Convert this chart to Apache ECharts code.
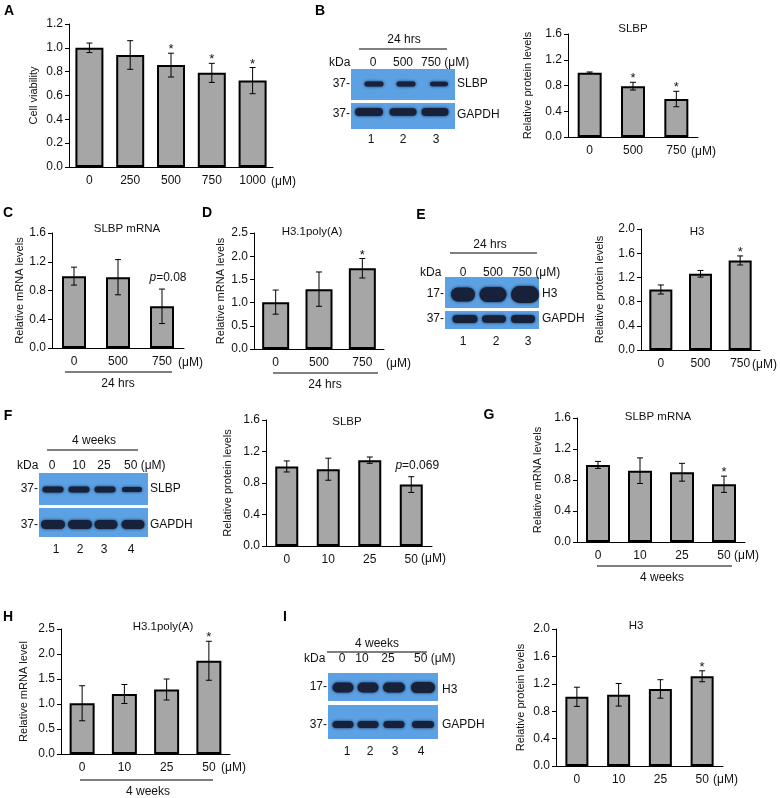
<!DOCTYPE html>
<html><head><meta charset="utf-8">
<script src="https://cdn.jsdelivr.net/npm/echarts@6/dist/echarts.min.js"></script>
<style>html,body{margin:0;padding:0;background:#fff}#c{width:780px;height:798px}</style>
</head><body><div id="c"></div>
<script>
// ---------------- DATA ----------------
const catA = ['0', '250', '500', '750', '1000'];
const valA = [1.00, 0.94, 0.855, 0.79, 0.725];
const errA = [0.04, 0.12, 0.10, 0.08, 0.11];
const noteA = ['', '', '*', '*', '*'];

const catB = ['0', '500', '750'];
const valB = [1.00, 0.79, 0.59];
const errB = [0.01, 0.06, 0.12];
const noteB = ['', '*', '*'];

const catC = ['0', '500', '750'];
const valC = [1.00, 0.985, 0.58];
const errC = [0.125, 0.245, 0.24];
const noteC = ['', '', 'p=0.08'];

const catD = ['0', '500', '750'];
const valD = [1.01, 1.29, 1.74];
const errD = [0.26, 0.37, 0.21];
const noteD = ['', '', '*'];

const catE = ['0', '500', '750'];
const valE = [1.00, 1.26, 1.48];
const errE = [0.075, 0.055, 0.075];
const noteE = ['', '', '*'];

const catF = ['0', '10', '25', '50'];
const valF = [1.01, 0.975, 1.09, 0.78];
const errF = [0.07, 0.14, 0.04, 0.10];
const noteF = ['', '', '', 'p=0.069'];

const catG = ['0', '10', '25', '50'];
const valG = [0.995, 0.92, 0.90, 0.745];
const errG = [0.045, 0.165, 0.115, 0.105];
const noteG = ['', '', '', '*'];

const catH = ['0', '10', '25', '50'];
const valH = [1.015, 1.20, 1.29, 1.865];
const errH = [0.35, 0.19, 0.21, 0.39];
const noteH = ['', '', '', '*'];

const catI = ['0', '10', '25', '50'];
const valI = [1.01, 1.04, 1.125, 1.31];
const errI = [0.14, 0.165, 0.135, 0.08];
const noteI = ['', '', '', '*'];

// ---------------- LAYOUT ----------------
const FONT = '"Liberation Sans", Arial, Helvetica, sans-serif';
const panels = [
  {cats: catA, vals: valA, errs: errA, notes: noteA, ymax: 1.2, step: 0.2, yname: 'Cell viability',
   grid: {left: 69, top: 24, width: 204, height: 143}, bw: 28, gap: 30},
  {cats: catB, vals: valB, errs: errB, notes: noteB, ymax: 1.6, step: 0.4, yname: 'Relative protein levels',
   grid: {left: 568, top: 34, width: 130, height: 103}, bw: 24, gap: 35},
  {cats: catC, vals: valC, errs: errC, notes: noteC, ymax: 1.6, step: 0.4, yname: 'Relative mRNA levels',
   grid: {left: 52, top: 233, width: 132, height: 115}, bw: 24, gap: 26},
  {cats: catD, vals: valD, errs: errD, notes: noteD, ymax: 2.5, step: 0.5, yname: 'Relative mRNA levels',
   grid: {left: 254, top: 233, width: 130, height: 116}, bw: 27, gap: 28},
  {cats: catE, vals: valE, errs: errE, notes: noteE, ymax: 2.0, step: 0.4, yname: 'Relative protein levels',
   grid: {left: 641, top: 229, width: 119, height: 121}, bw: 23, gap: 36},
  {cats: catF, vals: valF, errs: errF, notes: noteF, ymax: 1.6, step: 0.4, yname: 'Relative protein levels',
   grid: {left: 266, top: 420, width: 166, height: 126}, bw: 23, gap: 33},
  {cats: catG, vals: valG, errs: errG, notes: noteG, ymax: 1.6, step: 0.4, yname: 'Relative mRNA levels',
   grid: {left: 577, top: 418, width: 168, height: 124}, bw: 24, gap: 34},
  {cats: catH, vals: valH, errs: errH, notes: noteH, ymax: 2.5, step: 0.5, yname: 'Relative mRNA level',
   grid: {left: 61, top: 629, width: 169, height: 125}, bw: 25, gap: 32},
  {cats: catI, vals: valI, errs: errI, notes: noteI, ymax: 2.0, step: 0.4, yname: 'Relative protein levels',
   grid: {left: 556, top: 629, width: 167, height: 137}, bw: 23, gap: 30}
];

const grids = [], xAxes = [], yAxes = [], series = [];
panels.forEach((p, i) => {
  grids.push(Object.assign({}, p.grid));
  xAxes.push({
    type: 'category', gridIndex: i, data: p.cats,
    axisLine: {lineStyle: {color: '#000', width: 1}},
    axisTick: {inside: true, length: 4, lineStyle: {color: '#000'}},
    axisLabel: {color: '#111', fontSize: 12, fontFamily: FONT, margin: 8, interval: 0}
  });
  yAxes.push({
    type: 'value', gridIndex: i, min: 0, max: p.ymax, interval: p.step,
    axisLine: {show: true, lineStyle: {color: '#000', width: 1}},
    axisTick: {show: true, length: 4, lineStyle: {color: '#000'}},
    splitLine: {show: false},
    axisLabel: {color: '#111', fontSize: 12, fontFamily: FONT, margin: 6, formatter: v => v.toFixed(1)},
    name: p.yname, nameLocation: 'middle', nameRotate: 90, nameGap: p.gap,
    nameTextStyle: {fontSize: 11, fontFamily: FONT, color: '#111'}
  });
  series.push({
    type: 'bar', xAxisIndex: i, yAxisIndex: i, data: p.vals, barWidth: p.bw, silent: true,
    itemStyle: {color: '#a6a6a6', borderColor: '#000', borderWidth: 2}
  });
  const notes = p.notes;
  series.push({
    type: 'custom', xAxisIndex: i, yAxisIndex: i, z: 5, silent: true,
    data: p.vals.map((v, j) => [j, v, p.errs[j]]),
    renderItem: (params, api) => {
      const x = api.value(0), v = api.value(1), e = api.value(2);
      const top = api.coord([x, v + e]);
      const bot = api.coord([x, v - e]);
      const cw = 3;
      const st = {stroke: '#000', lineWidth: 1};
      const ch = [
        {type: 'line', shape: {x1: top[0], y1: top[1], x2: bot[0], y2: bot[1]}, style: st},
        {type: 'line', shape: {x1: top[0] - cw, y1: top[1], x2: top[0] + cw, y2: top[1]}, style: st},
        {type: 'line', shape: {x1: bot[0] - cw, y1: bot[1], x2: bot[0] + cw, y2: bot[1]}, style: st}
      ];
      const n = notes[params.dataIndex];
      if (n === '*') {
        ch.push({type: 'text', x: top[0], y: top[1] + 3,
          style: {text: '*', fontSize: 13, fontFamily: FONT, fill: '#111', align: 'center', verticalAlign: 'bottom'}});
      } else if (n) {
        ch.push({type: 'text', x: top[0] + 6, y: top[1] - 5,
          style: {text: '{i|p}' + n.slice(1), fontSize: 12, fontFamily: FONT, fill: '#111', align: 'center', verticalAlign: 'bottom',
            rich: {i: {fontStyle: 'italic', fontSize: 12, fontFamily: FONT, fill: '#111'}}}});
      }
      return {type: 'group', children: ch};
    }
  });
});

// ---------------- ANNOTATIONS ----------------
const G = [];
function T(text, x, y, o) {
  o = o || {};
  G.push({type: 'text', x: x, y: y, z: 10, silent: true,
    style: {text: text, fontSize: o.fs || 12, fontWeight: o.fw || 'normal', fontFamily: FONT, fill: o.c || '#111',
      align: o.a || 'center', verticalAlign: 'middle'}});
}
function L(x1, y1, x2, y2) {
  G.push({type: 'line', z: 10, silent: true, shape: {x1: x1, y1: y1, x2: x2, y2: y2}, style: {stroke: '#000', lineWidth: 1}});
}
function R(x, y, w, h, fill) {
  G.push({type: 'rect', z: 8, silent: true, shape: {x: x, y: y, width: w, height: h}, style: {fill: fill}});
}
function band(cx, cy, w, h) {
  G.push({type: 'rect', z: 9, silent: true, shape: {x: cx - w / 2, y: cy - h / 2, width: w, height: h, r: h / 2},
    style: {fill: '#17223a', shadowBlur: 3, shadowColor: 'rgba(15,25,50,0.9)'}});
}
const BLUE = '#5ca1e4';

// panel letters
[['A', 9, 11], ['B', 320, 11], ['C', 8, 213], ['D', 207, 213], ['E', 421, 215],
 ['F', 8, 416], ['G', 489, 415], ['H', 8, 617], ['I', 285, 617]].forEach(l => T(l[0], l[1], l[2], {fs: 14, fw: 'bold', c: '#000'}));

// chart titles
[['SLBP', 633, 29], ['SLBP mRNA', 127, 229], ['H3.1poly(A)', 312, 232], ['H3', 697, 232],
 ['SLBP', 347, 422], ['SLBP mRNA', 658, 417], ['H3.1poly(A)', 163, 627], ['H3', 636, 626]].forEach(t => T(t[0], t[1], t[2], {fs: 11.5}));

// units on x axes
[[271, 182], [691, 152], [178, 363], [386, 364], [752, 365], [421, 559], [734, 556], [221, 768], [713, 780]]
  .forEach(u => T('(μM)', u[0], u[1], {a: 'left', fs: 12}));

// time underlines
L(65, 372, 172, 372); T('24 hrs', 118, 384);
L(273, 373, 378, 373); T('24 hrs', 325, 385);
L(597, 566, 732, 566); T('4 weeks', 662, 578);
L(80, 780, 213, 780); T('4 weeks', 148, 792);

// ---- Blot B ----
T('24 hrs', 404, 40); L(359, 49, 447, 49);
T('kDa', 329, 63, {a: 'left'}); T('0', 373, 63); T('500', 403, 63); T('750 (μM)', 421, 63, {a: 'left'});
R(351, 69, 104, 31, BLUE); R(351, 103, 104, 26, BLUE);
T('37-', 350, 84, {a: 'right'}); T('37-', 350, 114, {a: 'right'});
T('SLBP', 457, 84, {a: 'left'}); T('GAPDH', 457, 115, {a: 'left'});
T('1', 371, 140); T('2', 403, 140); T('3', 436, 140);
band(374, 84, 19, 5); band(406, 84, 19, 5); band(439, 84, 18, 4.5);
band(369, 112, 28, 8); band(403, 112, 27, 7.5); band(435, 112, 27, 8);

// ---- Blot E ----
T('24 hrs', 490, 245); L(450, 253, 537, 253);
T('kDa', 420, 273, {a: 'left'}); T('0', 463, 273); T('500', 493, 273); T('750 (μM)', 512, 273, {a: 'left'});
R(445, 277, 94, 31, BLUE); R(445, 311, 94, 18, BLUE);
T('17-', 444, 294, {a: 'right'}); T('37-', 444, 319, {a: 'right'});
T('H3', 542, 294, {a: 'left'}); T('GAPDH', 542, 319, {a: 'left'});
T('1', 463, 342); T('2', 496, 342); T('3', 528, 342);
band(463, 294.5, 24, 14); band(493, 294.5, 27, 15); band(525, 294.5, 28, 17);
band(465, 319, 25, 8); band(494, 319, 24, 7.5); band(523, 319, 24, 8);

// ---- Blot F ----
T('4 weeks', 94, 441); L(47, 450, 138, 450);
T('kDa', 17, 466, {a: 'left'}); T('0', 52, 466); T('10', 79, 466); T('25', 104, 466); T('50 (μM)', 124, 466, {a: 'left'});
R(39, 473, 109, 32, BLUE); R(39, 508, 109, 29, BLUE);
T('37-', 38, 489, {a: 'right'}); T('37-', 38, 525, {a: 'right'});
T('SLBP', 150, 489, {a: 'left'}); T('GAPDH', 150, 525, {a: 'left'});
T('1', 56, 550); T('2', 80, 550); T('3', 104, 550); T('4', 131, 550);
band(53, 489.5, 21, 6); band(79, 489.5, 21, 6); band(105, 489.5, 21, 6); band(132, 489.5, 20, 5);
band(53, 524.5, 24, 9); band(80, 524.5, 24, 9); band(106, 524.5, 23, 9); band(133, 524.5, 23, 9);

// ---- Blot I ----
T('4 weeks', 377, 644); L(327, 652, 427, 652);
T('kDa', 304, 659, {a: 'left'}); T('0', 342, 659); T('10', 362, 659); T('25', 388, 659); T('50 (μM)', 414, 659, {a: 'left'});
R(328, 673, 110, 28, BLUE); R(328, 705, 110, 34, BLUE);
T('17-', 327, 687, {a: 'right'}); T('37-', 327, 725, {a: 'right'});
T('H3', 442, 690, {a: 'left'}); T('GAPDH', 442, 725, {a: 'left'});
T('1', 347, 752); T('2', 370, 752); T('3', 395, 752); T('4', 421, 752);
band(343, 687.5, 21, 10); band(368, 687.5, 21, 10); band(394, 687.5, 22, 10); band(423, 687.5, 24, 11);
band(343, 724.5, 21, 7); band(368, 724.5, 21, 7); band(394, 724.5, 21, 7); band(423, 724.5, 22, 7);

const chart = echarts.init(document.getElementById('c'), null, {renderer: 'canvas'});
chart.setOption({
  animation: false,
  backgroundColor: '#fff',
  grid: grids, xAxis: xAxes, yAxis: yAxes, series: series,
  graphic: {elements: G}
});
</script></body></html>
